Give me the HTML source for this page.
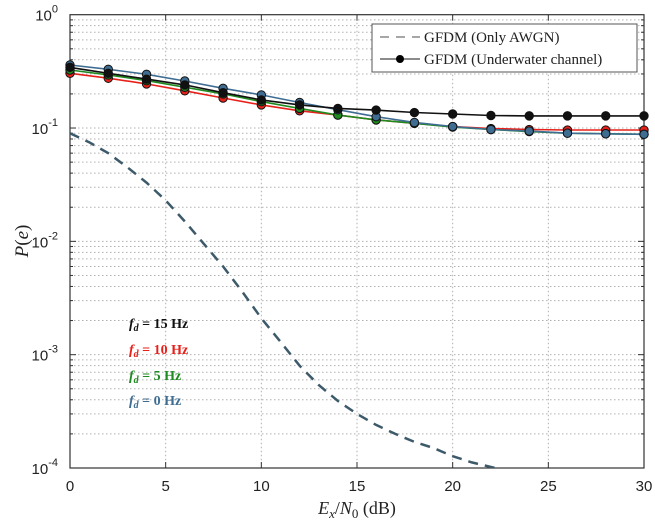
<!DOCTYPE html>
<html><head><meta charset="utf-8"><style>
html,body{margin:0;padding:0;background:#fff;}
svg{display:block;font-family:"Liberation Serif",serif;}
</style></head><body>
<svg id="chart" width="655" height="520" viewBox="0 0 655 520"></svg>
<script>
const xs = [0,2,4,6,8,10,12,14,16,18,20,22,24,26,28,30];
const fd15 = [0.343,0.304,0.27,0.24,0.205,0.177,0.16,0.149,0.144,0.137,0.133,0.129,0.128,0.128,0.128,0.128];
const fd10 = [0.304,0.275,0.245,0.213,0.184,0.16,0.142,0.13,0.118,0.11,0.103,0.099,0.097,0.096,0.096,0.096];
const fd5  = [0.325,0.294,0.262,0.229,0.2,0.171,0.149,0.13,0.118,0.11,0.102,0.097,0.093,0.09,0.089,0.088];
const fd0  = [0.36,0.33,0.298,0.26,0.224,0.196,0.168,0.145,0.126,0.112,0.103,0.097,0.094,0.09,0.089,0.088];
const awgnX = [0,1,2,3,4,5,6,7,8,9,10,11,12,13,14,15,16,17,18,19,20,21,22,23,24];
const awgnY = [0.09,0.075,0.06,0.045,0.033,0.023,0.015,0.0095,0.006,0.0036,0.0021,0.0013,0.0008,0.00054,0.00039,0.0003,0.00024,0.0002,0.00017,0.00015,0.000127,0.000112,0.000102,0.000093,0.000085];
const xTicks = [0,5,10,15,20,25,30];
const yDecades = [0,-1,-2,-3,-4];

const L=70,R=644,T=14.7,B=468;
const sx=v=>L+(v-0)/30*(R-L);
const sy=v=>T+(-Math.log10(v))/4*(B-T);
const NS='http://www.w3.org/2000/svg';
const svg=document.getElementById('chart');
function mk(tag,attrs,parent){const e=document.createElementNS(NS,tag);for(const k in attrs)e.setAttribute(k,attrs[k]);(parent||svg).appendChild(e);return e;}

const grid=mk('g',{});


for(const t of xTicks){ if(t>0&&t<30) mk('line',{x1:sx(t),x2:sx(t),y1:T,y2:B,stroke:'#b0b0b0','stroke-width':1,'stroke-dasharray':'1.5,2.5'},grid);}
for(let d=-4;d<0;d++){for(let m=1;m<10;m++){const v=m*Math.pow(10,d);const y=sy(v);if(m===1&&d===-4)continue;mk('line',{x1:L,x2:R,y1:y,y2:y,stroke:'#b0b0b0','stroke-width':1,'stroke-dasharray':'1.5,2.5'},grid);
 mk('line',{x1:L,x2:L+(m===1?6:3),y1:y,y2:y,stroke:'#333'},grid);mk('line',{x1:R,x2:R-(m===1?6:3),y1:y,y2:y,stroke:'#333'},grid);}}
for(const t of xTicks){mk('line',{x1:sx(t),x2:sx(t),y1:B,y2:B-6,stroke:'#333'},grid);mk('line',{x1:sx(t),x2:sx(t),y1:T,y2:T+6,stroke:'#333'},grid);}

const ax=mk('rect',{x:L,y:T,width:R-L,height:B-T,fill:'none',stroke:'#333','stroke-width':1.2});



for(const t of xTicks){const e=mk('text',{x:sx(t),y:491,'text-anchor':'middle','font-family':'Liberation Sans, sans-serif','font-size':15,fill:'#222'});e.textContent=t;
 
 }
for(const d of yDecades){const e=mk('text',{x:58,y:sy(Math.pow(10,d))+6,'text-anchor':'end','font-family':'Liberation Sans, sans-serif','font-size':15,fill:'#222'});e.textContent='10';
 const s=mk('tspan',{dy:-8,'font-size':11},e);s.textContent=String(d);
 
 }

const xt=mk('text',{x:357,y:514,'text-anchor':'middle','font-size':18,fill:'#222'});
xt.innerHTML='<tspan font-style="italic">E</tspan><tspan font-style="italic" font-size="13" dy="4">x</tspan><tspan dy="-4">/</tspan><tspan font-style="italic">N</tspan><tspan font-size="13" dy="4">0</tspan><tspan dy="-4"> (dB)</tspan>';


const yt=mk('text',{x:0,y:0,'text-anchor':'middle','font-size':19,fill:'#222',transform:'translate(28,241) rotate(-90)'});
yt.innerHTML='<tspan font-style="italic">P</tspan>(<tspan font-style="italic">e</tspan>)';



const clip=mk('clipPath',{id:'pc'});mk('rect',{x:L,y:T,width:R-L,height:B-T},clip);
const aw=mk('path',{d:awgnX.map((x,i)=>(i?'L':'M')+sx(x).toFixed(1)+','+sy(awgnY[i]).toFixed(1)).join(''),fill:'none',stroke:'#3d5a6b','stroke-width':2.5,'stroke-dasharray':'10,7','clip-path':'url(#pc)'});



const series=[[fd10,'#e8201a','fd-10hz'],[fd5,'#1f8a1f','fd-5hz'],[fd0,'#3f6d92','fd-0hz'],[fd15,'#111','fd-15hz']];
for(const [ys,c,n] of series){const g=mk('g',{});
 
 
 mk('path',{d:xs.map((x,i)=>(i?'L':'M')+sx(x).toFixed(1)+','+sy(ys[i]).toFixed(1)).join(''),fill:'none',stroke:c,'stroke-width':1.6},g);
 xs.forEach((x,i)=>{const m=mk('circle',{cx:sx(x),cy:sy(ys[i]),r:4.2,fill:c,stroke:'#111','stroke-width':1},g);
 
 });}

const labels=[['15','#111',328],['10','#e8201a',354],['5','#1f8a1f',380],['0','#3f6d92',405]];
for(const [v,c,y] of labels){const e=mk('text',{x:129,y:y,'font-size':14,fill:c,'font-weight':'bold'});
 e.innerHTML='<tspan font-style="italic">f</tspan><tspan font-style="italic" font-size="10" dy="3">d</tspan><tspan dy="-3"> = '+v+' Hz</tspan>';
 
 }

const lg=mk('g',{});


mk('rect',{x:372,y:24,width:265,height:48,fill:'#fff',stroke:'#555','stroke-width':1},lg);
mk('line',{x1:380,x2:420,y1:37,y2:37,stroke:'#888','stroke-width':1.5,'stroke-dasharray':'9,7'},lg);
mk('line',{x1:380,x2:420,y1:59,y2:59,stroke:'#666','stroke-width':1.5},lg);
mk('circle',{cx:400,cy:59,r:4,fill:'#000'},lg);
const l1=mk('text',{x:424,y:42,'font-size':15,fill:'#222'},lg);l1.textContent='GFDM (Only AWGN)';


const l2=mk('text',{x:424,y:64,'font-size':15,fill:'#222'},lg);l2.textContent='GFDM (Underwater channel)';


</script>
</body></html>
